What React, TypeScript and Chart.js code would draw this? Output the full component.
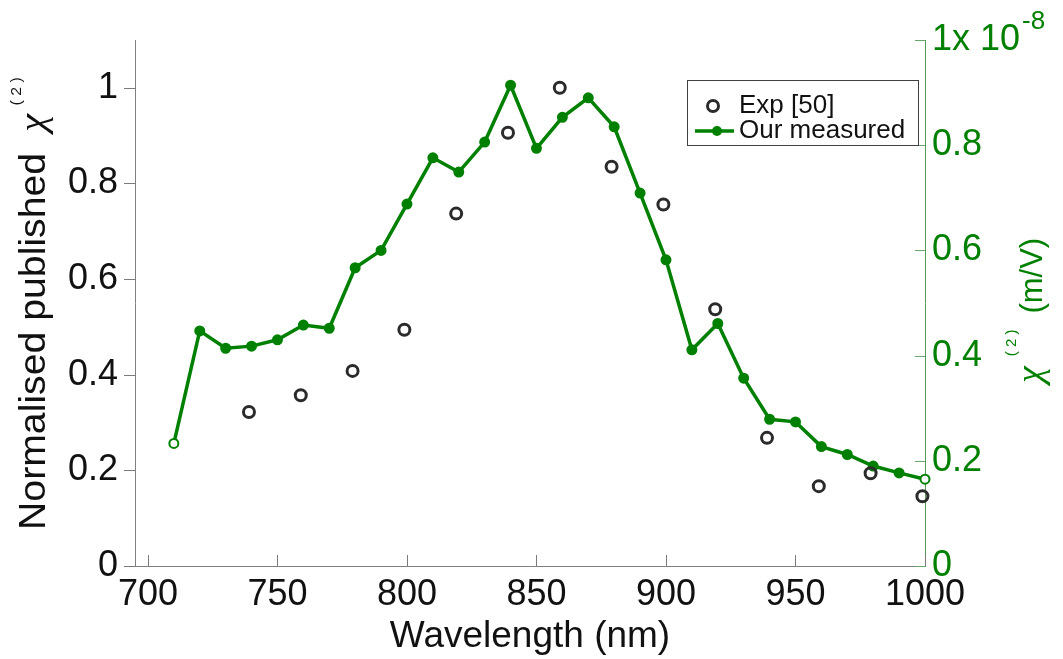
import React, { useEffect, useRef } from "react";
import { Chart, registerables } from "chart.js";

Chart.register(...registerables);

// Published data (Exp [50]) – normalised χ(2), left axis
const expWavelength = [739, 759, 779, 799, 819, 839, 859, 879, 899, 919, 939, 959, 979, 999];
const expNormalised = [0.322, 0.357, 0.408, 0.494, 0.737, 0.906, 1.0, 0.835, 0.756, 0.537, 0.268, 0.167, 0.194, 0.146];

// Our measured χ(2), right axis, in units of 1e-8 m/V
const measWavelength = [710, 720, 730, 740, 750, 760, 770, 780, 790, 800, 810, 820, 830, 840, 850, 860, 870, 880, 890, 900, 910, 920, 930, 940, 950, 960, 970, 980, 990, 1000];
const measChi2e8 = [0.233, 0.447, 0.414, 0.418, 0.430, 0.458, 0.452, 0.567, 0.600, 0.688, 0.776, 0.749, 0.806, 0.914, 0.794, 0.853, 0.890, 0.835, 0.709, 0.582, 0.411, 0.461, 0.357, 0.279, 0.274, 0.227, 0.212, 0.190, 0.177, 0.165];

const xTicks = [700, 750, 800, 850, 900, 950, 1000];
const leftTicks = [0, 0.2, 0.4, 0.6, 0.8, 1.0];
const rightTicks = [0, 0.2, 0.4, 0.6, 0.8, 1.0];

const FONT = "'Liberation Sans', Arial, Helvetica, sans-serif";
const GREEK = "'Liberation Serif', 'DejaVu Serif', serif";
const GREEN = "#008000";
const DARK = "#2b2b2b";

const fmt = (v: number) => (v === 0 ? "0" : v === 1 ? "1" : v.toFixed(1));

const decor = {
  id: "decor",
  afterDraw(chart: any) {
    const ctx = chart.ctx as CanvasRenderingContext2D;
    const { left, right, bottom } = chart.chartArea;
    const sx = chart.scales.x;
    const sy = chart.scales.y;
    const sy2 = chart.scales.y2;
    const line = (x1: number, y1: number, x2: number, y2: number) => {
      ctx.beginPath();
      ctx.moveTo(x1, y1);
      ctx.lineTo(x2, y2);
      ctx.stroke();
    };
    ctx.save();
    ctx.lineWidth = 1;
    ctx.strokeStyle = "#7a7a7a";
    for (const t of sy.ticks) {
      const py = Math.round(sy.getPixelForValue(t.value)) + 0.5;
      line(left - 11, py, left, py);
    }
    for (const t of sx.ticks) {
      const px = Math.round(sx.getPixelForValue(t.value)) + 0.5;
      line(px, bottom, px, bottom - 11);
    }
    ctx.strokeStyle = "#6aa86a";
    for (const t of sy2.ticks) {
      const py = Math.round(sy2.getPixelForValue(t.value)) + 0.5;
      line(right - 10, py, right, py);
    }

    // exponent of right axis
    ctx.font = `36px ${FONT}`;
    const w1 = ctx.measureText("1x 10").width;
    ctx.fillStyle = GREEN;
    ctx.font = `26px ${FONT}`;
    ctx.textAlign = "left";
    ctx.textBaseline = "alphabetic";
    ctx.fillText("-8", right + 7 + w1 + 2, 29);

    // x title
    ctx.fillStyle = "#111";
    ctx.font = `37px ${FONT}`;
    ctx.textAlign = "center";
    ctx.fillText("Wavelength (nm)", (left + right) / 2, 647);

    // left title
    ctx.save();
    ctx.translate(45, 530);
    ctx.rotate(-Math.PI / 2);
    ctx.scale(1.06, 1);
    ctx.textAlign = "left";
    ctx.font = `37px ${FONT}`;
    const main = "Normalised published";
    ctx.fillText(main, 0, 0);
    let u = ctx.measureText(main).width + 20;
    ctx.font = `italic 38px ${GREEK}`;
    ctx.fillText("χ", u, 0);
    u += ctx.measureText("χ").width + 8;
    ctx.font = `15px ${FONT}`;
    ctx.fillText("( 2 )", u, -24);
    ctx.restore();

    // right title
    ctx.save();
    ctx.translate(1042, 383);
    ctx.rotate(-Math.PI / 2);
    ctx.fillStyle = GREEN;
    ctx.textAlign = "left";
    ctx.font = `italic 38px ${GREEK}`;
    ctx.fillText("χ", 0, 0);
    let r = ctx.measureText("χ").width + 10;
    ctx.font = `15px ${FONT}`;
    ctx.fillText("( 2 )", r, -26);
    r += ctx.measureText("( 2 )").width + 16;
    ctx.font = `31px ${FONT}`;
    ctx.fillText("(m/V)", r, 0);
    ctx.restore();

    // legend
    const bx = 687, by = 80, bw = 231, bh = 65;
    ctx.fillStyle = "#fff";
    ctx.fillRect(bx, by, bw, bh);
    ctx.strokeStyle = "#404040";
    ctx.lineWidth = 1;
    ctx.strokeRect(bx + 0.5, by + 0.5, bw, bh);
    ctx.beginPath();
    ctx.arc(713, 106, 5.5, 0, Math.PI * 2);
    ctx.strokeStyle = DARK;
    ctx.lineWidth = 3;
    ctx.stroke();
    ctx.strokeStyle = GREEN;
    ctx.lineWidth = 3.5;
    line(695, 131, 734, 131);
    ctx.beginPath();
    ctx.arc(717, 131, 5, 0, Math.PI * 2);
    ctx.fillStyle = GREEN;
    ctx.fill();
    ctx.fillStyle = "#111";
    ctx.font = `26px ${FONT}`;
    ctx.textAlign = "left";
    ctx.textBaseline = "middle";
    ctx.fillText("Exp [50]", 739, 106);
    ctx.fillText("Our measured", 739, 131);
    ctx.restore();
  },
};

export default function App() {
  const ref = useRef<HTMLCanvasElement | null>(null);
  useEffect(() => {
    if (!ref.current) return;
    Chart.defaults.font.family = FONT;
    const n = measWavelength.length;
    const chart = new Chart(ref.current, {
      type: "scatter",
      data: {
        datasets: [
          {
            label: "Exp [50]",
            data: expWavelength.map((x, i) => ({ x, y: expNormalised[i] })),
            yAxisID: "y",
            showLine: false,
            pointStyle: "circle",
            pointRadius: 5.5,
            pointBorderWidth: 3,
            pointBorderColor: DARK,
            pointBackgroundColor: "rgba(255,255,255,0)",
            clip: false,
          } as any,
          {
            label: "Our measured",
            data: measWavelength.map((x, i) => ({ x, y: measChi2e8[i] })),
            yAxisID: "y2",
            showLine: true,
            borderColor: GREEN,
            borderWidth: 3.5,
            pointRadius: 4.5,
            pointBorderWidth: 2,
            pointBorderColor: GREEN,
            pointBackgroundColor: measWavelength.map((_, i) => (i === 0 || i === n - 1 ? "#ffffff" : GREEN)),
            clip: false,
          } as any,
        ],
      },
      options: {
        animation: false,
        responsive: false,
        layout: { padding: { left: 0, right: 0, top: 40, bottom: 0 } },
        plugins: { legend: { display: false }, tooltip: { enabled: false } },
        scales: {
          x: {
            type: "linear",
            position: "bottom",
            min: 695,
            max: 1000,
            afterBuildTicks: (s: any) => {
              s.ticks = xTicks.map((v) => ({ value: v }));
            },
            afterFit: (s: any) => {
              s.height = 93;
            },
            ticks: { font: { size: 36 }, color: "#111", padding: 7, maxRotation: 0, autoSkip: false, callback: (v: any) => String(v) },
            grid: { display: true, drawOnChartArea: false, drawTicks: false },
            border: { display: true, color: "#808080", width: 1 },
          },
          y: {
            type: "linear",
            position: "left",
            min: 0,
            max: 1.1,
            afterBuildTicks: (s: any) => {
              s.ticks = leftTicks.map((v) => ({ value: v }));
            },
            afterFit: (s: any) => {
              s.width = 135;
            },
            ticks: { font: { size: 36 }, color: "#111", padding: 17, autoSkip: false, callback: (v: any) => fmt(Number(v)) },
            grid: { display: true, drawOnChartArea: false, drawTicks: false },
            border: { display: true, color: "#808080", width: 1 },
          },
          y2: {
            type: "linear",
            position: "right",
            min: 0,
            max: 1,
            afterBuildTicks: (s: any) => {
              s.ticks = rightTicks.map((v) => ({ value: v }));
            },
            afterFit: (s: any) => {
              s.width = 138;
            },
            ticks: {
              font: { size: 36 },
              color: GREEN,
              padding: 7,
              autoSkip: false,
              callback: (v: any) => (Number(v) === 1 ? "1x 10" : fmt(Number(v))),
            },
            grid: { display: true, drawOnChartArea: false, drawTicks: false },
            border: { display: true, color: "#5a9a5a", width: 1 },
          },
        },
      },
      plugins: [decor],
    });
    return () => chart.destroy();
  }, []);
  return (
    <div style={{ position: "absolute", left: 0, top: 0, width: 1063, height: 659, background: "#fff" }}>
      <canvas ref={ref} width={1063} height={659} />
    </div>
  );
}
